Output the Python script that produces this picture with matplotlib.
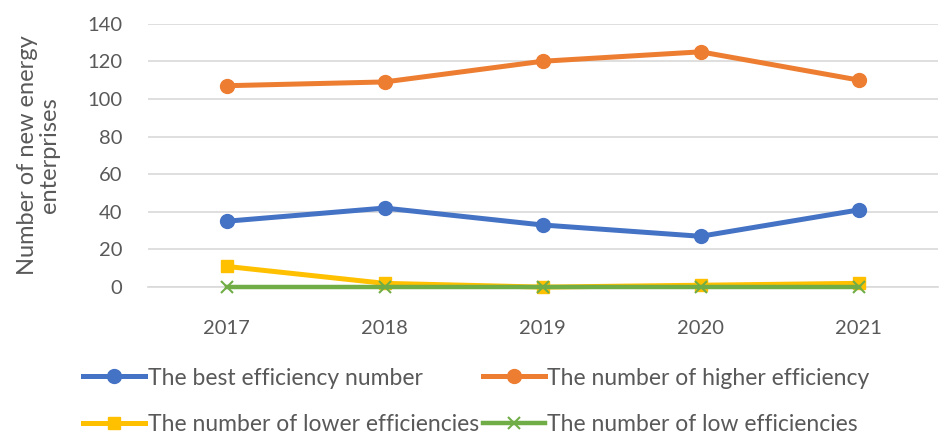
import matplotlib
matplotlib.use("Agg")
import matplotlib.pyplot as plt

years = ["2017", "2018", "2019", "2020", "2021"]
best = [35, 42, 33, 27, 41]
higher = [107, 109, 120, 125, 110]
lower = [11, 2, 0, 1, 2]
low = [0, 0, 0, 0, 0]
y_ticks = [0, 20, 40, 60, 80, 100, 120, 140]

plt.rcParams['font.family'] = ['Lato', 'DejaVu Sans']
text_color = "#595959"

fig = plt.figure(figsize=(9.52, 4.37), dpi=100)
ax = fig.add_axes([0.155, 0.343, 0.83, 0.603])

x = list(range(len(years)))
h1, = ax.plot(x, best, color="#4472C4", lw=3.6, marker="o", ms=10, label="The best efficiency number", zorder=3)
h2, = ax.plot(x, higher, color="#ED7D31", lw=3.6, marker="o", ms=10, label="The number of higher efficiency", zorder=3)
h3, = ax.plot(x, lower, color="#FFC000", lw=3.6, marker="s", ms=9, label="The number of lower efficiencies", zorder=3)
h4, = ax.plot(x, low, color="#70AD47", lw=3.2, marker="x", ms=8, mew=1.5, label="The number of low efficiencies", zorder=4)

ax.set_xlim(-0.5, len(years) - 0.5)
ax.set_ylim(0, 140)
ax.set_xticks(x)
ax.set_xticklabels(years)
ax.set_yticks(y_ticks)
ax.grid(axis="y", color="#D9D9D9", lw=1.2)
ax.set_axisbelow(True)
for s in ["top", "right", "left"]:
    ax.spines[s].set_visible(False)
ax.spines["bottom"].set_color("#D9D9D9")
ax.spines["bottom"].set_linewidth(1.2)
ax.tick_params(length=0, labelsize=14.5, colors=text_color)
ax.tick_params(axis="y", pad=18)
ax.tick_params(axis="x", pad=24)
for line in ax.get_lines():
    line.set_clip_on(False)

ax.set_ylabel("Number of new energy\nenterprises", fontsize=17, color=text_color, labelpad=20, linespacing=1.05)

# row-wise ordering for a two-column legend
handles = [h1, h3, h2, h4]
fig.legend(handles=handles, labels=[h.get_label() for h in handles],
           loc="lower left", bbox_to_anchor=(0.066, -0.042), ncol=2, frameon=False,
           fontsize=16.5, labelcolor=text_color, handlelength=2.7, handletextpad=0.1,
           columnspacing=0.2, labelspacing=1.1)

fig.savefig("out.png", dpi=100)
